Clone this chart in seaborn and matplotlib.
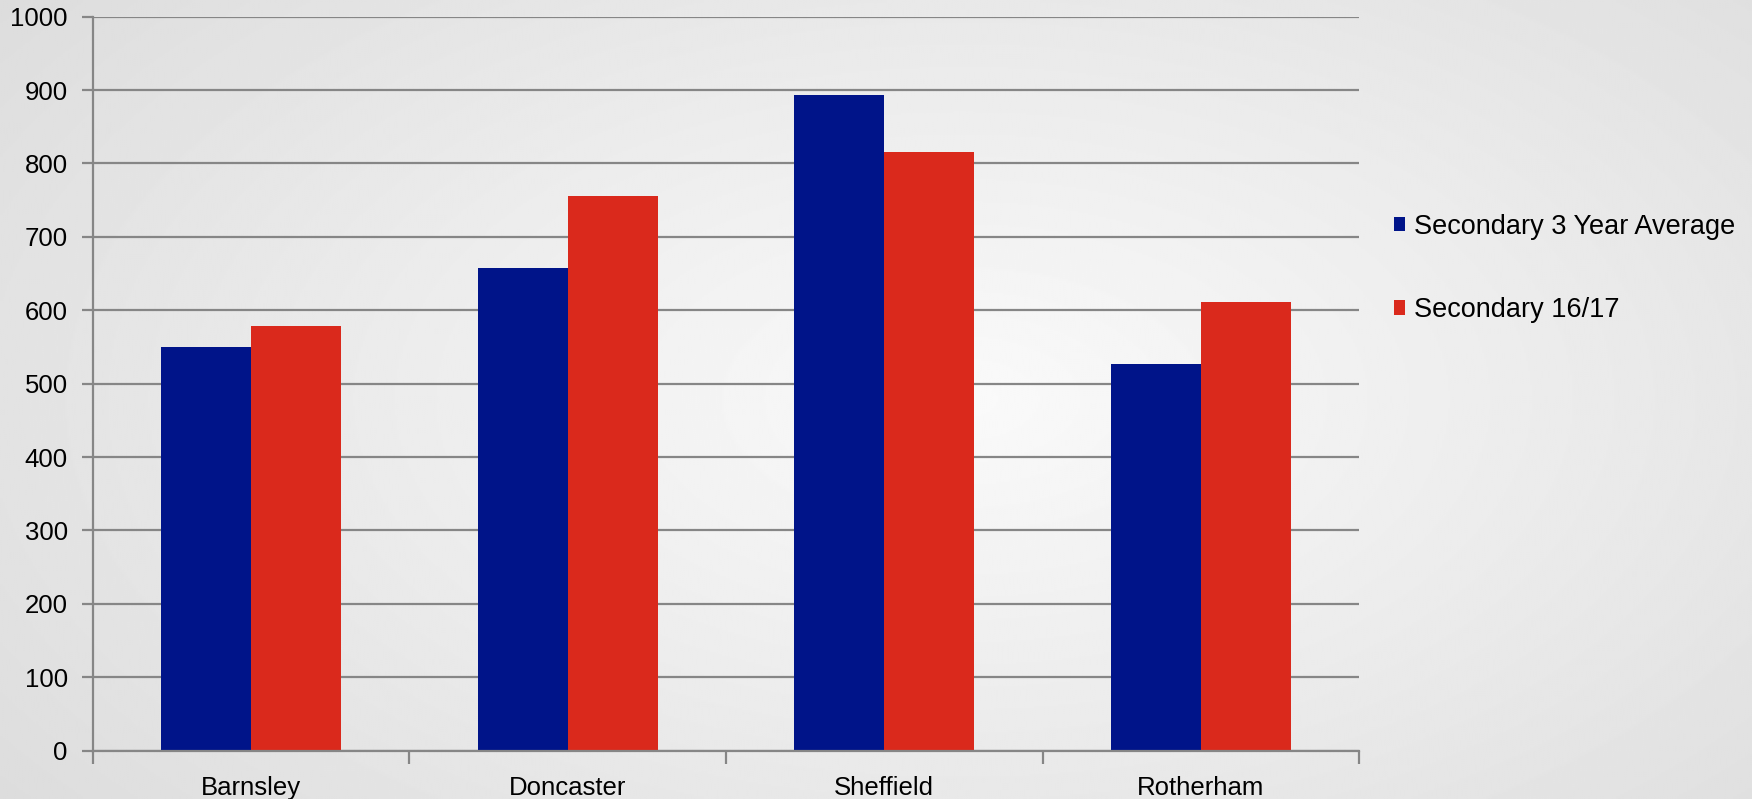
import numpy as np
import pandas as pd
import matplotlib.pyplot as plt
import seaborn as sns

areas = ['Barnsley', 'Doncaster', 'Sheffield', 'Rotherham']
series = ['Secondary 3 Year Average', 'Secondary 16/17']
avg_3yr = [550, 657, 893, 527]
sec_1617 = [578, 756, 815, 611]
yticks = [0, 100, 200, 300, 400, 500, 600, 700, 800, 900, 1000]

df = pd.DataFrame({
    'area': areas * 2,
    'series': [series[0]] * 4 + [series[1]] * 4,
    'value': avg_3yr + sec_1617,
})

sns.set_style('white')
plt.rcParams['font.family'] = ['Liberation Sans', 'DejaVu Sans']
plt.rcParams['text.color'] = 'black'
plt.rcParams['xtick.color'] = 'black'
plt.rcParams['ytick.color'] = 'black'

fig = plt.figure(figsize=(17.52, 7.99), dpi=100)

# radial grey gradient background
bg = fig.add_axes([0, 0, 1, 1], zorder=-10)
yy, xx = np.mgrid[0:1:400j, 0:1:880j]
r = np.sqrt(((xx - 0.55) / 0.75) ** 2 + ((yy - 0.5) / 0.9) ** 2)
bg.imshow(0.98 - 0.125 * np.clip(r, 0, 1), cmap='gray', vmin=0, vmax=1,
          aspect='auto', extent=[0, 1, 0, 1], interpolation='bilinear')
bg.axis('off')

ax = fig.add_axes([0.0529, 0.0605, 0.7229, 0.9186])
ax.patch.set_alpha(0)

sns.barplot(data=df, x='area', y='value', hue='series', ax=ax,
            palette=['#001489', '#DA291C'], width=0.568, gap=0,
            saturation=1, linewidth=0)

ax.set_ylim(0, 1000)
ax.set_xlim(-0.5, 3.5)
ax.set_yticks(yticks)
ax.set_xticks([-0.5, 0.5, 1.5, 2.5, 3.5], minor=False)
ax.set_xticklabels([])
ax.set_xticks([0, 1, 2, 3], minor=True)
ax.set_xticklabels(areas, minor=True)
ax.set_xlabel('')
ax.set_ylabel('')

ax.grid(axis='y', color='#868686', linewidth=1.6)
ax.set_axisbelow(True)
for s in ['top', 'right']:
    ax.spines[s].set_visible(False)
for s in ['left', 'bottom']:
    ax.spines[s].set_color('#868686')
    ax.spines[s].set_linewidth(1.6)

ax.tick_params(axis='y', which='major', length=8, width=1.6, color='#868686',
               labelsize=18.5, labelcolor='black', pad=10, left=True)
ax.tick_params(axis='x', which='major', length=9, width=1.6, color='#868686',
               bottom=True)
ax.tick_params(axis='x', which='minor', length=0, labelsize=18.5,
               labelcolor='black', pad=18)

handles, labels = ax.get_legend_handles_labels()
ax.legend(handles, labels, loc='center left', bbox_to_anchor=(0.7957, 0.664),
          bbox_transform=fig.transFigure, frameon=False, fontsize=19.5,
          handlelength=0.42, handleheight=0.42, handletextpad=0.3,
          labelspacing=2.12, borderpad=0, borderaxespad=0, labelcolor='black')

fig.savefig('out.png', dpi=100)
